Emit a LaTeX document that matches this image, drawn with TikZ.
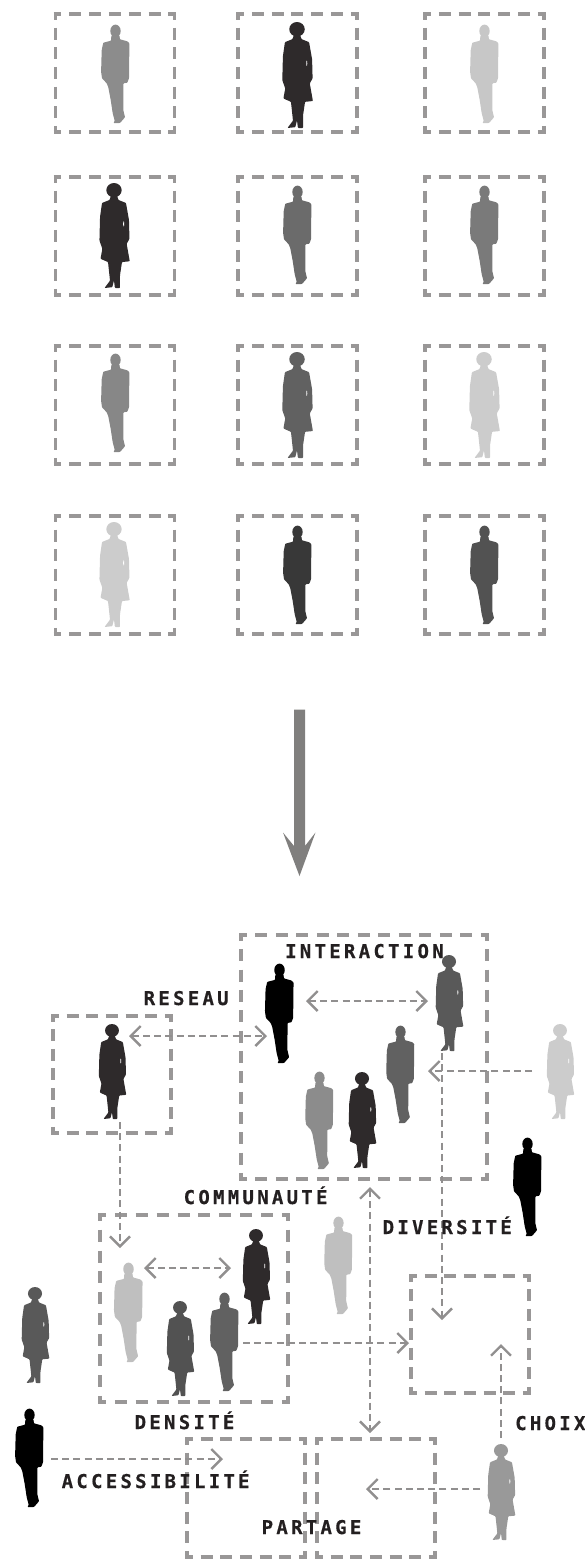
\documentclass[tikz,border=0pt]{standalone}
\usepackage{fontspec}
\usetikzlibrary{arrows.meta}
\newfontfamily\lblfont[LetterSpace=17.2,BoldFeatures={FakeBold=0.5}]{DejaVu Sans Mono}
\definecolor{boxgray}{HTML}{999797}
\definecolor{linkgray}{HTML}{918F8F}
\definecolor{bigarrow}{HTML}{807F7E}
\definecolor{ink}{HTML}{231F20}
\tikzset{
  x=1pt,y=-1pt,
  boxarea/.style={inner sep=0pt,outer sep=0pt,draw=none,rectangle},
  boxline/.style={draw=boxgray,line width=3.6pt,line cap=butt},
  link/.style={draw=linkgray,line width=2.1pt,dash pattern=on 7pt off 4.2pt},
  headb/.style={-{Straight Barb[length=10pt,width=20pt,line width=2.4pt]}},
  headd/.style={{Straight Barb[length=10pt,width=20pt,line width=2.4pt]}-{Straight Barb[length=10pt,width=20pt,line width=2.4pt]}},
  lbl/.style={font=\lblfont\bfseries\fontsize{19}{19}\selectfont,text=ink,inner sep=0pt,anchor=base west},
  figarea/.style={inner sep=0pt,outer sep=0pt,draw=none,rectangle}
}
\newcommand{\dside}[3]{%
  \pgfmathsetmacro{\nnn}{max(1,round(#3/19.83))}%
  \pgfmathsetmacro{\gpp}{#3/\nnn-12}%
  \draw[boxline,dash pattern=on 12pt off \gpp pt,dash phase=4.25pt,shorten <=-1.8pt,shorten >=-1.8pt] (#1) -- (#2);}
\newcommand{\dbox}[5]{% name x1 y1 x2 y2
  \pgfmathsetmacro{\ww}{#4-#2}\pgfmathsetmacro{\hh}{#5-#3}%
  \node[boxarea,minimum width=\ww pt,minimum height=\hh pt] (#1) at ({(#2+#4)/2},{(#3+#5)/2}) {};%
  \pgfmathsetmacro{\www}{\ww}\pgfmathsetmacro{\hhh}{\hh}%
  \dside{#1.north west}{#1.north east}{\www}%
  \dside{#1.south west}{#1.south east}{\www}%
  \dside{#1.north west}{#1.south west}{\hhh}%
  \dside{#1.north east}{#1.south east}{\hhh}}
\newcommand{\figman}[5]{% name x top bottom colour
  \pgfmathsetmacro{\sss}{(#4-#3)/98}%
  \node[figarea,minimum width=27pt,minimum height=98pt] (#1) at (#2,{(#3+#4)/2}) {};%
  \begin{scope}[shift={(#2,#3)},scale=\sss]
  \fill[#5] (0.5,6) ellipse [x radius=5.2,y radius=6.4];
  \fill[#5,rounded corners=0.6pt] (-3.6,10.5)--(-4,15.7)--(-11.7,17.7)--(-13.3,25)--(-13.9,46.7)--(-13,53.3)--(-8.3,58.3)--(-6.7,62.3)--(-4.3,75)--(-2.3,88.3)--(-0.3,95.7)--(-1.5,98)--(5,98)--(10,92.3)--(8.3,85)--(8.5,58.3)--(12.3,57.7)--(14,53.3)--(14.4,18.3)--(12.3,16.3)--(5,14.3)--(4.4,10.5)--cycle;
  \end{scope}}
\newcommand{\figwoman}[5]{%
  \pgfmathsetmacro{\sss}{(#4-#3)/105.3}%
  \node[figarea,minimum width=29pt,minimum height=95pt] (#1) at (#2,{(#3+#4)/2}) {};%
  \begin{scope}[shift={(#2,#3)},scale=\sss]
  \fill[#5] (0,7.2) ellipse [x radius=7.7,y radius=7.2];
  \fill[#5,rounded corners=0.7pt] (-12,20)--(-4.5,17)--(-3,12.7)--(3,12.7)--(4.5,17)--(12,20)--(15,37)--(15.5,56)--(12.7,61)--(15.8,78.5)--(8,79.3)--(6,92.7)--(6,105.3)--(0.9,105.3)--(0,97.7)--(-1.7,104.5)--(-9.5,105.3)--(-4,98)--(-6,79.3)--(-13.5,76)--(-11.7,66)--(-14.6,57.7)--(-14,34)--cycle;
  \fill[white] (9.7,41) ellipse [x radius=0.5,y radius=2.6];
  \end{scope}}
\begin{document}
\begin{tikzpicture}
\useasboundingbox (0,0) rectangle (585,1559);
% top grid
\dbox{ga}{55.5}{14}{174.5}{132}
\dbox{gb}{238}{14}{357}{132}
\dbox{gc}{425}{14}{544}{132}
\dbox{gd}{55.5}{177}{174.5}{295}
\dbox{ge}{238}{177}{357}{295}
\dbox{gf}{425}{177}{544}{295}
\dbox{gg}{55.5}{346}{174.5}{464}
\dbox{gh}{238}{346}{357}{464}
\dbox{gi}{425}{346}{544}{464}
\dbox{gj}{55.5}{516}{174.5}{634}
\dbox{gk}{238}{516}{357}{634}
\dbox{gl}{425}{516}{544}{634}
\figman{pa}{115}{25}{123}{black!45}
\figwoman{pb}{297}{22}{128}{ink!95}
\figman{pc}{484}{25}{123}{black!22}
\figwoman{pd}{114}{183}{288}{ink!95}
\figman{pe}{297}{186}{284}{black!58}
\figman{pf}{484}{186}{284}{black!52}
\figman{pg}{115}{354}{452}{black!47}
\figwoman{ph}{297}{352}{458}{black!62}
\figwoman{pi}{484}{352}{458}{black!20}
\figwoman{pj}{114}{522}{627}{black!20}
\figman{pk}{297}{526}{624}{black!78}
\figman{pl}{484}{526}{624}{black!68}
% big arrow
\node[boxarea,minimum width=11pt,minimum height=1pt] (arrowtop) at (299.5,709.5) {};
\coordinate (arrowtip) at (299.5,876);
\fill[bigarrow] (arrowtop.west) -- (arrowtop.east) -- (305,846) -- (315.5,832.5) -- (arrowtip) -- (283,832.5) -- (294,846) -- cycle;
% lower boxes
\dbox{binter}{241}{935}{487}{1179}
\dbox{breseau}{53}{1016}{171}{1133}
\dbox{bdens}{100}{1215}{288}{1402}
\dbox{bchoix}{411}{1276}{529}{1393}
\dbox{bparta}{187}{1439}{305}{1557}
\dbox{bpartb}{317}{1439}{435}{1557}
% lower figures
\figwoman{qa}{112}{1024}{1119}{ink!95}
\figman{qb}{279}{964}{1063}{black}
\figman{qc}{319}{1072}{1169}{black!45}
\figwoman{qd}{362}{1072}{1168}{ink!95}
\figman{qe}{400}{1026}{1123}{black!62}
\figwoman{qf}{449}{955}{1051}{black!65}
\figwoman{qg}{560}{1024}{1119}{black!20}
\figman{qh}{527}{1138}{1236}{black}
\figman{qi}{338}{1217}{1314}{black!25}
\figman{qj}{128}{1263}{1362}{black!25}
\figwoman{qk}{180}{1301}{1396}{black!68}
\figman{ql}{224}{1293}{1391}{black!62}
\figwoman{qm}{256}{1229}{1324}{ink!95}
\figwoman{qn}{35}{1287}{1383}{black!65}
\figman{qo}{29}{1409}{1507}{black}
\figwoman{qp}{501}{1444}{1540}{black!40}
% connector ends
\coordinate (c1a) at (129,1036); \coordinate (c1b) at (267,1036);
\coordinate (c2a) at (306,1001); \coordinate (c2b) at (428,1001);
\coordinate (c3a) at (532,1071); \coordinate (c3b) at (428,1071);
\coordinate (c4a) at (442,1053); \coordinate (c4b) at (442,1320);
\coordinate (c5a) at (370,1187); \coordinate (c5b) at (370,1433);
\coordinate (c6a) at (120,1122); \coordinate (c6b) at (120,1248);
\coordinate (c7a) at (144,1268); \coordinate (c7b) at (231,1268);
\coordinate (c8a) at (243,1343); \coordinate (c8b) at (409,1343);
\coordinate (c9a) at (501,1438); \coordinate (c9b) at (501,1344);
\coordinate (c10a) at (480,1489); \coordinate (c10b) at (366,1489);
\coordinate (c11a) at (51,1459); \coordinate (c11b) at (223,1459);
\draw[link,headd] (c1a) -- (c1b);
\draw[link,headd] (c2a) -- (c2b);
\draw[link,headb] (c3a) -- (c3b);
\draw[link,headb] (c4a) -- (c4b);
\draw[link,headd] (c5a) -- (c5b);
\draw[link,headb] (c6a) -- (c6b);
\draw[link,headd] (c7a) -- (c7b);
\draw[link,headb] (c8a) -- (c8b);
\draw[link,headb] (c9a) -- (c9b);
\draw[link,headb] (c10a) -- (c10b);
\draw[link,headb] (c11a) -- (c11b);
% labels
\node[lbl] (l1) at (285,958) {INTERACTION};
\node[lbl] (l2) at (143.5,1005) {RESEAU};
\node[lbl] (l3) at (183.5,1204) {COMMUNAUTÉ};
\node[lbl] (l4) at (382.5,1234) {DIVERSITÉ};
\node[lbl] (l5) at (134.5,1429) {DENSITÉ};
\node[lbl] (l6) at (61.5,1488) {ACCESSIBILITÉ};
\node[lbl] (l7) at (261.5,1534) {PARTAGE};
\node[lbl] (l8) at (515,1430) {CHOIX};
\end{tikzpicture}
\end{document}
